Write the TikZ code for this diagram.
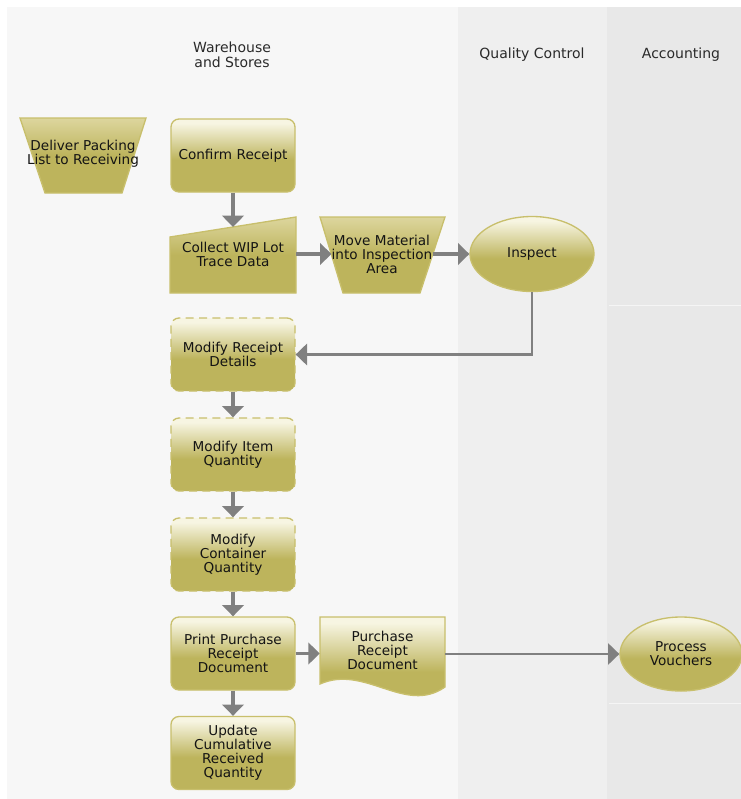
\documentclass[tikz,border=0pt]{standalone}
\usepackage{fontspec}
\setmainfont{DejaVu Sans}
\usetikzlibrary{shapes.geometric,arrows.meta,calc}
\definecolor{oD}{HTML}{BDB45C}
\definecolor{oL}{HTML}{F7F5E2}
\definecolor{oM}{HTML}{DDD69E}
\definecolor{bd}{HTML}{C8BF6C}
\definecolor{ar}{HTML}{808080}
\definecolor{laneA}{HTML}{F7F7F7}
\definecolor{laneQ}{HTML}{EFEFEF}
\definecolor{laneC}{HTML}{E8E8E8}
\definecolor{txt}{HTML}{141414}
\definecolor{hdr}{HTML}{2A2A2A}
\pgfdeclareverticalshading{olv}{100bp}{color(0bp)=(oD); color(47bp)=(oD); color(72bp)=(oL); color(100bp)=(oL)}
\pgfdeclareverticalshading{olvb}{100bp}{color(0bp)=(oD); color(50bp)=(oD); color(75bp)=(oM); color(100bp)=(oM)}
\begin{document}
\begin{tikzpicture}[x=0.75pt,y=-0.75pt,
  font=\fontsize{10.2}{10.5}\selectfont, text=txt,
  box/.style={rectangle, rounded corners=6pt, draw=bd, line width=1pt, shading=olv,
    minimum width=93pt, minimum height=54.75pt, inner sep=0pt, align=center, text width=90pt},
  dbox/.style={box, dash pattern=on 6pt off 4pt},
  oval/.style={ellipse, draw=bd, line width=1pt, shading=olv, inner sep=0pt, align=center},
  shapefill/.style={draw=bd, line width=1pt},
  holder/.style={rectangle, inner sep=0pt, align=center},
  hd/.style={align=center, text=hdr, font=\fontsize{10.5}{11}\selectfont},
  flow/.style={draw=ar, line width=2.4pt, -{Triangle[width=16pt,length=8.5pt]}},
  thin/.style={draw=ar, line width=1.6pt, -{Triangle[width=16pt,length=8.5pt]}}
]
\useasboundingbox (0,0) rectangle (741,799);
% lanes
\fill[white] (0,0) rectangle (741,799);
\fill[laneA] (7,7) rectangle (458,799);
\fill[laneQ] (458,7) rectangle (607,799);
\fill[laneC] (607,7) rectangle (741,799);
\draw[laneC!45!white, line width=0.5pt] (609,305) -- (741,305);
\draw[laneC!45!white, line width=0.5pt] (609,703) -- (741,703);

% headers
\node[hd] (hw) at (232,55) {Warehouse\\and Stores};
\node[hd] (hq) at (532,55) {Quality Control};
\node[hd] (ha) at (681,55) {Accounting};

% custom shapes
\path[shapefill, shading=olvb] (20,118) -- (146,118) -- (122,193) -- (45,193) -- cycle;
\path[shapefill, shading=olvb] (170,293) -- (170,237) -- (296,217) -- (296,293) -- cycle;
\path[shapefill, shading=olvb] (320,217) -- (445,217) -- (420,293) -- (343,293) -- cycle;
\path[shapefill, shading=olv] (320,617) -- (445,617) -- (445,687)
   .. controls (405,715) and (365,664) .. (320,684) -- cycle;

% nodes
\node[holder] (dp) at (83,154) {Deliver Packing\\List to Receiving};
\node[box] (cr) at (233,155.5) {Confirm Receipt};
\node[holder, minimum width=94.5pt, minimum height=57pt] (cw) at (233,254) {Collect WIP Lot\\Trace Data};
\coordinate (cwtop) at (233,227);
\node[holder, minimum width=75pt, minimum height=57pt] (mv) at (382,254) {Move Material\\into Inspection\\Area};
\node[oval, minimum width=93pt, minimum height=56.25pt] (in) at (532,254) {Inspect};
\node[dbox] (mr) at (233,354.5) {Modify Receipt\\Details};
\node[dbox] (mi) at (233,454.5) {Modify Item\\Quantity};
\node[dbox] (mc) at (233,554.5) {Modify\\Container\\Quantity};
\node[box] (pp) at (233,653.5) {Print Purchase\\Receipt\\Document};
\node[holder, minimum width=93.75pt, minimum height=52pt] (doc) at (382.5,650) {Purchase\\Receipt\\Document};
\node[oval, minimum width=91.5pt, minimum height=55.5pt] (pv) at (681,654) {Process\\Vouchers};
\node[box] (uc) at (233,753) {Update\\Cumulative\\Received\\Quantity};

% connectors
\draw[flow] (cr) -- (cwtop);
\draw[flow] (cw.east) -- (mv.west);
\draw[flow] (mv.east) -- (in.west);
\draw[thin] (in.south) |- (mr.east);
\draw[flow] (mr) -- (mi);
\draw[flow] (mi) -- (mc);
\draw[flow] (mc) -- (pp);
\draw[flow] (pp.east) -- (doc.west |- pp.east);
\draw[thin] (doc.east |- pv.west) -- (pv.west);
\draw[flow] (pp) -- (uc);
\end{tikzpicture}
\end{document}
